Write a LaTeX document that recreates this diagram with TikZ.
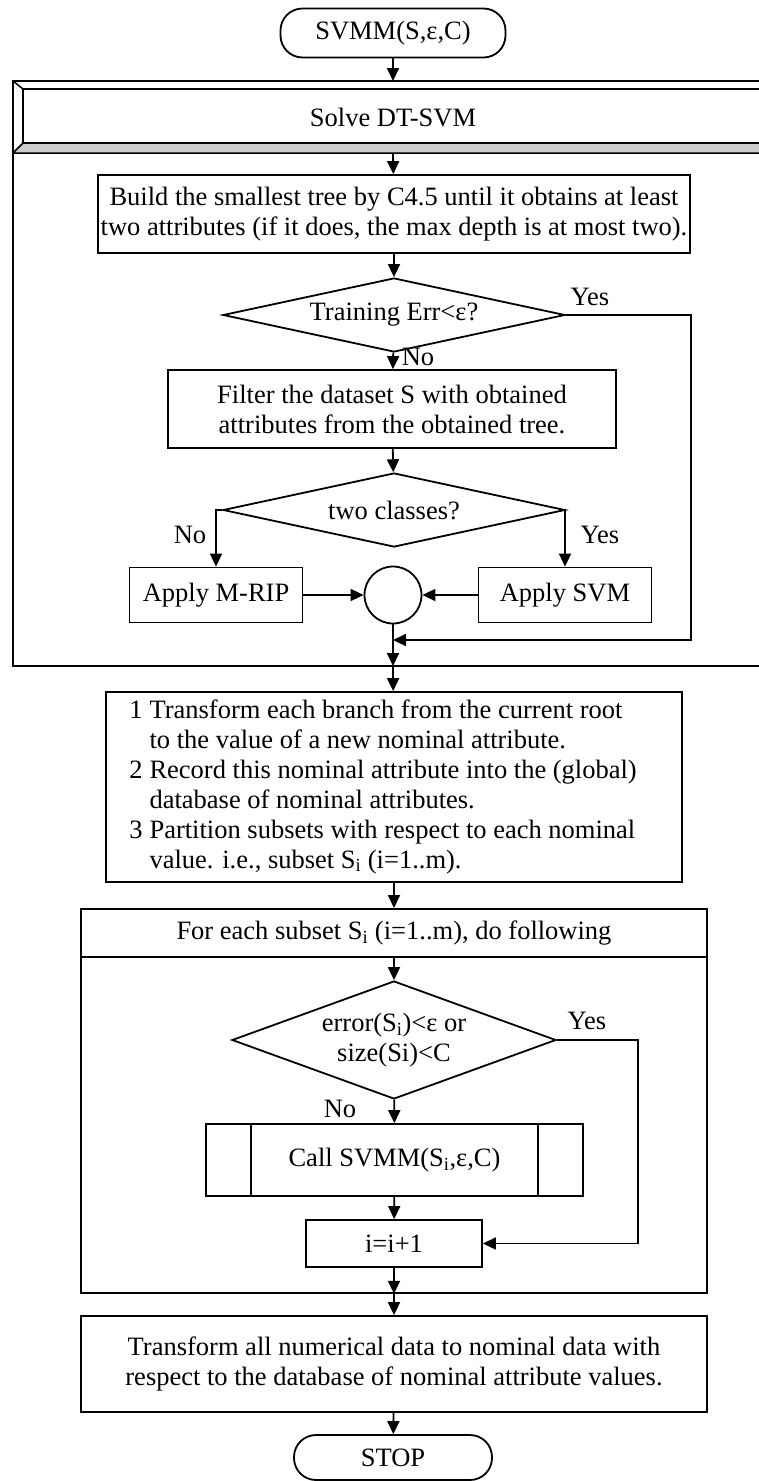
\documentclass[tikz,border=0pt]{standalone}
\usepackage{fontspec}
\setmainfont{Liberation Serif}
\usetikzlibrary{arrows.meta,calc,shapes.geometric}
\tikzset{
  txt/.style={font=\fontsize{26.5}{30}\selectfont},
  box/.style={draw, line width=1.8pt, align=center, inner sep=0pt, txt},
  link/.style={line width=1.8pt, -{Triangle[width=12pt,length=13pt]}},
  wire/.style={line width=1.8pt},
  dec/.style={draw, line width=1.8pt, diamond, inner sep=0pt},
  term/.style={draw, line width=1.8pt, rounded corners=22pt, inner sep=0pt, txt},
}
\begin{document}
\begin{tikzpicture}[x=1pt,y=-1pt]
\useasboundingbox (0,0) rectangle (758,1481);

% start
\node[term, minimum width=225pt, minimum height=49pt] (start) at (393,33) {SVMM(S,ε,C)};

% DT-SVM container with bevelled header
\fill[gray!40] (13,153) -- (23,143) -- (800,143) -- (800,153) -- cycle;
\draw[line width=1.5pt] (23,89) rectangle (800,143);
\draw[line width=1.5pt] (13,81) -- (23,89) (13,153) -- (23,143) (13,153) -- (800,153);
\draw[line width=2.6pt] (13,81) rectangle (800,666);
\node[txt] (hdr) at (393,118) {Solve DT-SVM};
\coordinate (frametop) at (393,81);
\coordinate (hdrbot) at (393,153);
\coordinate (framebot) at (393,666);

\node[box, minimum width=592pt, minimum height=78pt] (build) at (394,214)
  {Build the smallest tree by C4.5 until it obtains at least\\two attributes (if it does, the max depth is at most two).};
\node[dec, minimum width=342pt, minimum height=74pt,
      label={[txt]center:Training Err<ε?}] (d1) at (394,315) {};
\node[box, minimum width=448pt, minimum height=78pt] (filter) at (392,409)
  {Filter the dataset S with obtained\\attributes from the obtained tree.};
\node[dec, minimum width=342pt, minimum height=74pt,
      label={[txt]center:two classes?}] (d2) at (394,510) {};
\node[box, minimum width=173pt, minimum height=55pt] (mrip) at (216,595) {Apply M-RIP};
\node[box, minimum width=173pt, minimum height=55pt] (svm) at (565,595) {Apply SVM};
\node[draw, line width=1.8pt, circle, minimum size=57pt, inner sep=0pt] (join) at (393,595) {};
\coordinate (merge) at (393,640);

\node[txt] (yes1) at (590,297) {Yes};
\node[txt] (no1) at (418,357) {No};
\node[txt] (no2) at (190,535) {No};
\node[txt] (yes2) at (600,535) {Yes};

% list of steps
\node[box, minimum width=576pt, minimum height=190pt] (steps) at (394,787)
  {\begin{tabular}{@{}l@{\hspace{7pt}}l@{}}
   1 & Transform each branch from the current root\\
     & to the value of a new nominal attribute.\\
   2 & Record this nominal attribute into the (global)\\
     & database of nominal attributes.\\
   3 & Partition subsets with respect to each nominal\\
     & value. i.e., subset S\textsubscript{i} (i=1..m).
   \end{tabular}\hspace*{22pt}};

% loop over the subsets
\node[draw, line width=1.8pt, minimum width=626pt, minimum height=384pt, anchor=north] (loop) at (394,908) {};
\node[box, minimum width=626pt, minimum height=48pt, anchor=north] (loophdr) at (loop.north)
  {For each subset S\textsubscript{i} (i=1..m), do following};
\node[dec, minimum width=324pt, minimum height=118pt,
      label={[txt,align=center]center:error(S\textsubscript{i})<ε or\\size(Si)<C}] (d3) at (394,1040) {};
\node[box, minimum width=377pt, minimum height=72pt] (call) at (394.5,1160) {Call SVMM(S\textsubscript{i},ε,C)};
\draw[wire] ($(call.north west)+(46,0)$) -- ($(call.south west)+(46,0)$)
            ($(call.north east)+(-46,0)$) -- ($(call.south east)+(-46,0)$);
\node[box, minimum width=176pt, minimum height=47pt] (inc) at (394,1243.5) {i=i+1};
\node[txt] (yes3) at (587,1021) {Yes};
\node[txt] (no3) at (340,1109) {No};

\node[box, minimum width=626pt, minimum height=96pt] (final) at (394,1364)
  {Transform all numerical data to nominal data with\\respect to the database of nominal attribute values.};
\node[term, minimum width=198pt, minimum height=45pt] (stop) at (393,1457.5) {STOP};

% connectors
\draw[link] (start) -- (frametop);
\draw[link] (hdrbot) -- (build);
\draw[link] (build) -- (d1);
\draw[link] (d1) -- (filter);
\draw[link] (filter) -- (d2);
\draw[link] (d2.west) -| (mrip.north);
\draw[link] (d2.east) -| (svm.north);
\draw[link] (mrip) -- (join);
\draw[link] (svm) -- (join);
\draw[link] (join) -- (framebot);
\draw[link] (d1.east) -- ++(125,0) |- (merge);
\draw[link] (framebot) -- (steps);
\draw[link] (steps) -- (loop.north);
\draw[link] (loophdr) -- (d3);
\draw[link] (d3) -- (call);
\draw[link] (call) -- (inc);
\draw[link] (d3.east) -- ++(81,0) |- (inc.east);
\draw[link] (inc) -- (loop.south);
\draw[link] (loop.south) -- (final);
\draw[link] (final) -- (stop);
\end{tikzpicture}
\end{document}
